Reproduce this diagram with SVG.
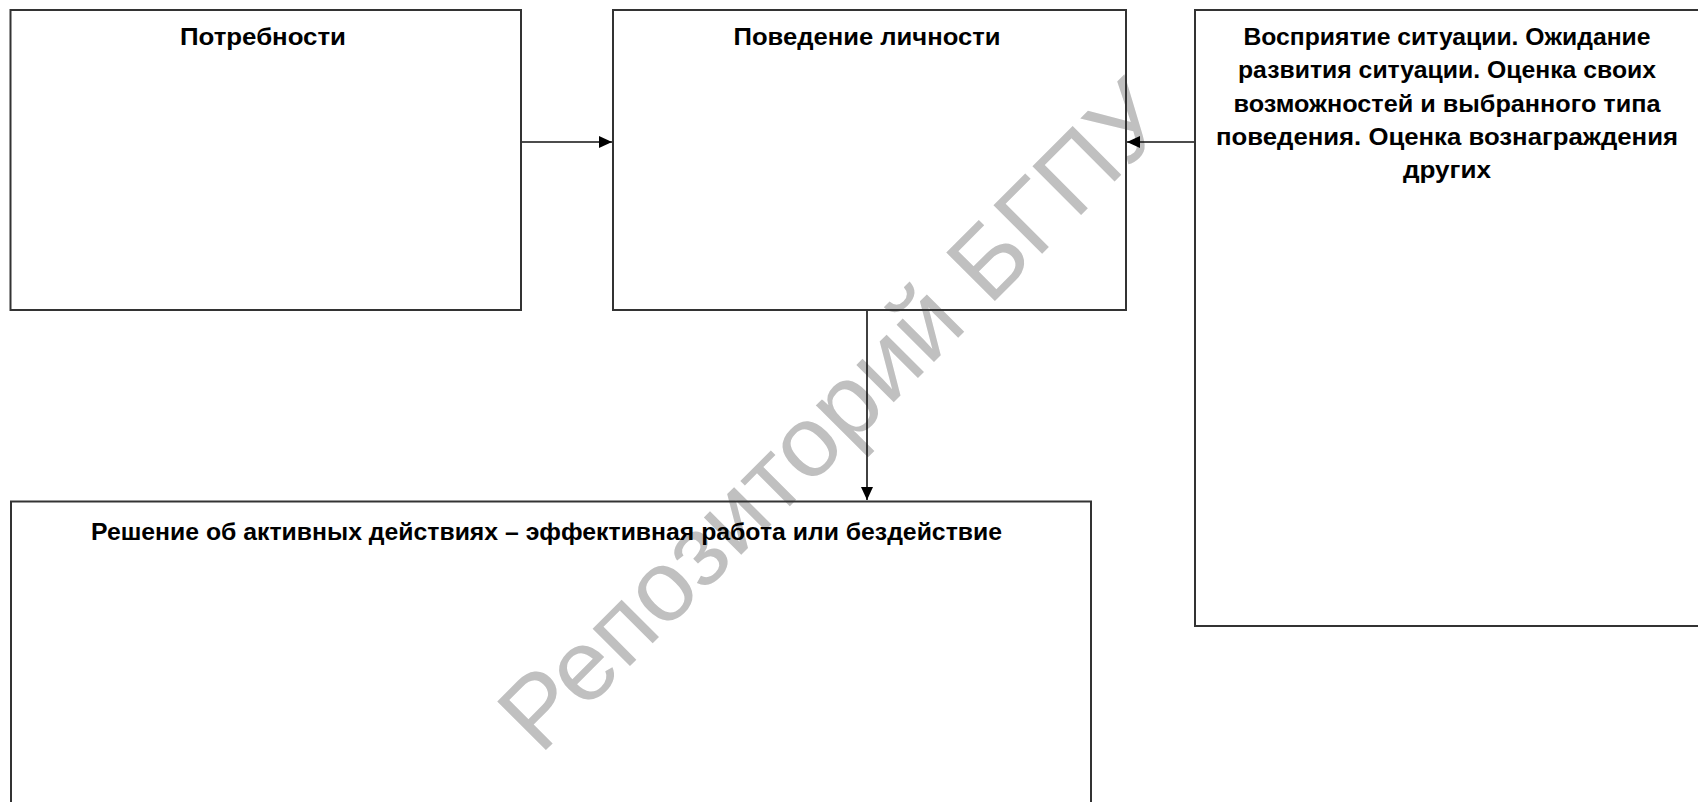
<svg xmlns="http://www.w3.org/2000/svg" width="1698" height="802" viewBox="0 0 1698 802">
  <style>
    .box { fill: none; stroke: #333; stroke-width: 2; }
    .lbl { font-family: "Liberation Sans", Arial, sans-serif; font-weight: bold; font-size: 23px; fill: #000; text-anchor: middle; }
    .conn { stroke: #111; stroke-width: 1.6; fill: none; marker-end: url(#arr); }
    .wm { font-family: "Liberation Sans", Arial, sans-serif; font-size: 100px; fill: #c0c0c0; }
  </style>
  <defs>
    <marker id="arr" markerWidth="13" markerHeight="12" refX="13" refY="6" orient="auto" markerUnits="userSpaceOnUse">
      <path d="M0,0 L13,6 L0,12 Z" fill="#000"/>
    </marker>
  </defs>
  <rect x="0" y="0" width="1698" height="802" fill="#fff"/>
  <g id="watermark">
    <text class="wm" transform="translate(540,756) rotate(-45)" textLength="895" lengthAdjust="spacingAndGlyphs">Репозиторий БГПУ</text>
  </g>
  <g id="connectors">
    <line class="conn" x1="521" y1="142" x2="612" y2="142"/>
    <line class="conn" x1="1195" y1="142" x2="1127" y2="142"/>
    <line class="conn" x1="867" y1="310" x2="867" y2="500"/>
  </g>
  <g id="node-needs">
    <rect class="box" x="10.5" y="10" width="510.5" height="300"/>
    <text class="lbl" x="263" y="45" textLength="166" lengthAdjust="spacingAndGlyphs">Потребности</text>
  </g>
  <g id="node-behavior">
    <rect class="box" x="613" y="10" width="513" height="300"/>
    <text class="lbl" x="867" y="45" textLength="267" lengthAdjust="spacingAndGlyphs">Поведение личности</text>
  </g>
  <g id="node-perception">
    <rect class="box" x="1195" y="10" width="520" height="616"/>
    <text class="lbl" x="1447" y="45" textLength="407" lengthAdjust="spacingAndGlyphs">Восприятие ситуации. Ожидание</text>
    <text class="lbl" x="1447" y="78.3" textLength="418" lengthAdjust="spacingAndGlyphs">развития ситуации. Оценка своих</text>
    <text class="lbl" x="1447" y="111.6" textLength="427" lengthAdjust="spacingAndGlyphs">возможностей и выбранного типа</text>
    <text class="lbl" x="1447" y="145" textLength="462" lengthAdjust="spacingAndGlyphs">поведения. Оценка вознаграждения</text>
    <text class="lbl" x="1447" y="178.3" textLength="88" lengthAdjust="spacingAndGlyphs">других</text>
  </g>
  <g id="node-decision">
    <rect class="box" x="11" y="501.5" width="1080" height="310"/>
    <text class="lbl" x="546.5" y="540" textLength="911" lengthAdjust="spacingAndGlyphs">Решение об активных действиях – эффективная работа или бездействие</text>
  </g>
</svg>
